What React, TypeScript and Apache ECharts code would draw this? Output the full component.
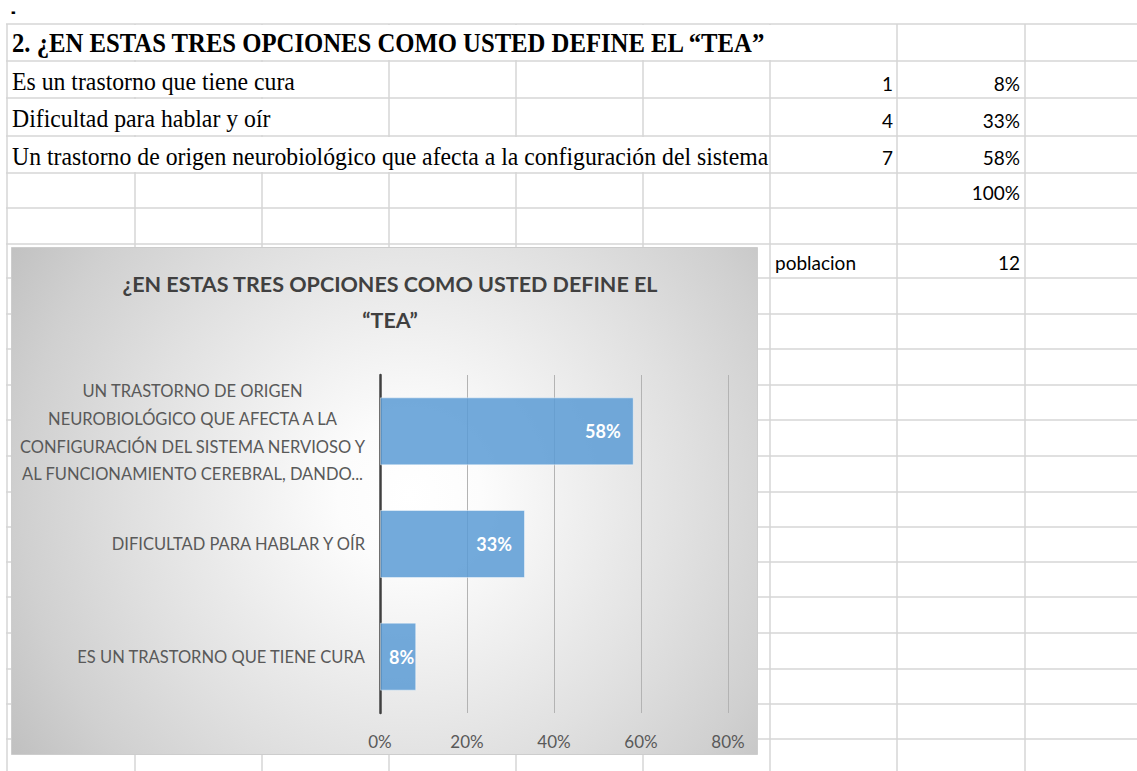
import React, { useEffect, useRef } from "react";
import * as echarts from "echarts";

// ---- Data ----
const sheetTitle = "2. ¿EN ESTAS TRES OPCIONES COMO USTED DEFINE EL “TEA”";
const sheetOptions = [
  "Es un trastorno que tiene cura",
  "Dificultad para hablar y oír",
  "Un trastorno de origen neurobiológico que afecta a la configuración del sistema",
];
const counts = [1, 4, 7];
const percentLabels = ["8%", "33%", "58%"];
const totalLabel = "100%";
const populationLabel = "poblacion";
const population = 12;

const chartTitle = "¿EN ESTAS TRES OPCIONES COMO USTED DEFINE EL\n“TEA”";
const categories = [
  "ES UN TRASTORNO QUE TIENE CURA",
  "DIFICULTAD PARA HABLAR Y OÍR",
  "UN TRASTORNO DE ORIGEN\nNEUROBIOLÓGICO QUE AFECTA A LA\nCONFIGURACIÓN DEL SISTEMA NERVIOSO Y\nAL FUNCIONAMIENTO CEREBRAL, DANDO...",
];
const values = [0.0833, 0.3333, 0.5833];
const xMin = 0;
const xMax = 0.8;
const xStep = 0.2;

// ---- Layout (spreadsheet geometry) ----
const COLS = [7, 135, 262, 389, 516, 643, 770, 897, 1025];
const ROWS = [24, 61, 98, 136, 173, 208, 244, 278, 314, 349, 385, 420, 456, 492, 527, 562, 597, 633, 669, 704, 739, 775];
const GRID_COLOR = "#d6d6d6";
const SERIF = '"Liberation Serif", "Times New Roman", serif';
const SANS = 'Lato, "Open Sans", sans-serif';
const PLOT_W = 348;

function buildGraphic() {
  const els: any[] = [];
  ROWS.forEach((y) =>
    els.push({
      type: "line",
      z: -10,
      silent: true,
      shape: { x1: 6, y1: y, x2: 1137, y2: y },
      style: { stroke: GRID_COLOR, lineWidth: 1.5 },
    })
  );
  COLS.forEach((x) =>
    els.push({
      type: "line",
      z: -10,
      silent: true,
      shape: { x1: x, y1: 24, x2: x, y2: 771 },
      style: { stroke: GRID_COLOR, lineWidth: 1.5 },
    })
  );
  // text overflow areas hide the inner cell borders
  const covers = [
    [8, 896, 24, 61],
    [8, 388, 61, 98],
    [8, 388, 98, 136],
    [8, 769, 136, 173],
  ];
  covers.forEach(([x1, x2, y1, y2]) =>
    els.push({
      type: "rect",
      z: -9,
      silent: true,
      shape: { x: x1, y: y1 + 1, width: x2 - x1, height: y2 - y1 - 2 },
      style: { fill: "#ffffff" },
    })
  );
  // chart area
  els.push({
    type: "rect",
    z: -8,
    silent: true,
    shape: { x: 11.5, y: 247.5, width: 746, height: 507 },
    style: {
      fill: new echarts.graphic.RadialGradient(
        410,
        495,
        480,
        [
          { offset: 0, color: "#ffffff" },
          { offset: 0.15, color: "#fcfcfc" },
          { offset: 0.58, color: "#e0e0e0" },
          { offset: 0.81, color: "#d0d0d0" },
          { offset: 0.97, color: "#c2c2c2" },
          { offset: 1, color: "#c0c0c0" },
        ],
        true
      ),
      stroke: "#cdcdcd",
      lineWidth: 1,
    },
  });

  const txt = (
    text: string,
    x: number,
    y: number,
    font: string,
    align: string,
    scaleX = 1,
    scaleY = 1
  ) => ({
    type: "text",
    z: -7,
    silent: true,
    x,
    y,
    scaleX,
    scaleY,
    style: {
      text,
      x: 0,
      y: 0,
      font,
      fill: "#000000",
      align,
      textAlign: align,
      verticalAlign: "middle",
      textVerticalAlign: "middle",
    },
  });

  els.push(txt("-", 11, 11.5, `bold 14px "DejaVu Sans", sans-serif`, "left", 0.8, 1.3));
  els.push(txt(sheetTitle, 12, 43, `bold 27px ${SERIF}`, "left", 0.915));
  const rowMid = [81, 118.5, 156];
  sheetOptions.forEach((t, i) => els.push(txt(t, 12, rowMid[i], `25px ${SERIF}`, "left", 0.95)));
  const numBase = [90.7, 127.7, 165];
  const numFont = `19px ${SANS}`;
  const off = 7.3;
  counts.forEach((c, i) => els.push(txt(String(c), 893, numBase[i] - off, numFont, "right")));
  percentLabels.forEach((p, i) => els.push(txt(p, 1020, numBase[i] - off, numFont, "right")));
  els.push(txt(totalLabel, 1020, 200 - off, numFont, "right"));
  els.push(txt(populationLabel, 775, 270 - off, numFont, "left"));
  els.push(txt(String(population), 1020, 270 - off, numFont, "right"));
  return els;
}

export default function App() {
  const ref = useRef<HTMLDivElement>(null);
  useEffect(() => {
    if (!ref.current) return;
    const chart = echarts.init(ref.current, undefined, { renderer: "svg" });
    chart.setOption({
      animation: false,
      backgroundColor: "#ffffff",
      title: {
        text: chartTitle,
        left: 390,
        top: 265.5,
        textAlign: "center",
        padding: 0,
        textStyle: {
          fontFamily: SANS,
          fontWeight: "bold",
          fontSize: 21.5,
          lineHeight: 36,
          color: "#404040",
        },
      },
      graphic: { elements: buildGraphic() },
      grid: { left: 380, top: 375, width: PLOT_W, height: 338, containLabel: false },
      xAxis: {
        type: "value",
        min: xMin,
        max: xMax,
        interval: xStep,
        axisLine: { show: false },
        axisTick: { show: false },
        splitLine: { show: true, lineStyle: { color: "#b3b3b3", width: 1 } },
        axisLabel: {
          margin: 20,
          color: "#595959",
          fontFamily: SANS,
          fontSize: 17,
          formatter: (v: number) => `${Math.round(v * 100)}%`,
        },
      },
      yAxis: {
        type: "category",
        data: categories,
        axisLine: { show: true, lineStyle: { color: "#404040", width: 2.5 } },
        axisTick: { show: false },
        splitLine: { show: false },
        axisLabel: {
          interval: 0,
          margin: 15,
          color: "#595959",
          fontFamily: SANS,
          fontSize: 16.5,
          formatter: (v: string) => (v.indexOf("\n") >= 0 ? `{m|${v}}` : `{s|${v}}`),
          rich: {
            m: {
              width: 345,
              align: "center",
              lineHeight: 27.6,
              fontSize: 16.5,
              fontFamily: SANS,
              color: "#595959",
              padding: [3, 0, 0, 0],
            },
            s: { fontSize: 16.5, fontFamily: SANS, color: "#595959" },
          },
        },
      },
      series: [
        {
          type: "bar",
          data: values.map((v) => ({
            value: v,
            label: { distance: (v / xMax) * PLOT_W < 50 ? 2 : 13 },
          })),
          barWidth: 68,
          itemStyle: {
            color: "rgba(91,155,213,0.85)",
            borderColor: "rgba(255,255,255,0.45)",
            borderWidth: 1,
          },
          label: {
            show: true,
            position: "insideRight",
            distance: 13,
            color: "#ffffff",
            fontFamily: SANS,
            fontWeight: "bold",
            fontSize: 18,
            formatter: (p: any) => `${Math.round(p.value * 100)}%`,
          },
        },
      ],
    });
    return () => chart.dispose();
  }, []);
  return (
    <div
      ref={ref}
      style={{ position: "absolute", left: 0, top: 0, width: 1137, height: 771 }}
    />
  );
}
